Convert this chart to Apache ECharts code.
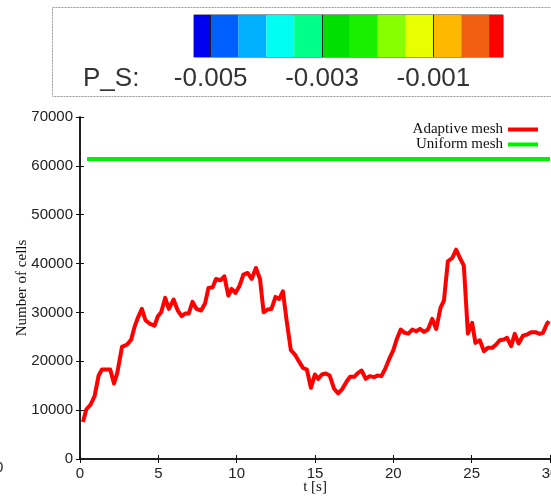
<!DOCTYPE html>
<html>
<head>
<meta charset="utf-8">
<script src="https://cdn.jsdelivr.net/npm/echarts@6/dist/echarts.min.js"></script>
<style>
  html, body { margin: 0; padding: 0; background: #fff; }
  #chart { width: 551px; height: 500px; }
</style>
</head>
<body>
<div id="chart"></div>
<script>
// Adaptive mesh: number of cells over simulation time
const timeS = [0.19,0.40,0.68,0.93,1.19,1.40,1.68,1.93,2.17,2.38,
  2.68,3.01,3.27,3.48,3.69,3.95,4.18,4.44,4.76,4.97,
  5.18,5.44,5.67,5.97,6.24,6.50,6.71,6.94,7.18,7.44,
  7.73,7.98,8.20,8.47,8.68,8.96,9.21,9.47,9.68,9.92,
  10.17,10.43,10.70,10.96,11.23,11.49,11.72,11.97,12.22,12.48,
  12.72,12.95,13.18,13.46,13.72,13.97,14.23,14.48,14.74,14.99,
  15.20,15.44,15.69,15.94,16.22,16.48,16.75,17.03,17.24,17.50,
  17.75,17.98,18.24,18.49,18.77,18.98,19.24,19.51,19.77,20.00,
  20.21,20.47,20.72,20.96,21.21,21.46,21.70,21.95,22.21,22.48,
  22.74,23.01,23.23,23.48,23.76,24.01,24.25,24.50,24.76,25.03,
  25.24,25.52,25.78,26.03,26.31,26.56,26.79,27.05,27.26,27.52,
  27.75,28.00,28.28,28.54,28.79,29.07,29.34,29.55,29.81,29.94];
const adaptiveCells = [7550,10140,11160,12870,17090,18320,18320,18320,15460,17630,
  22950,23430,24450,27040,28880,30720,28400,27720,27310,29220,
  30040,32970,30720,32630,30380,29220,29770,29770,32160,30720,
  30380,31810,35010,35150,36850,36580,37400,33450,34810,33990,
  35350,37740,38080,36850,39100,36850,30040,30580,30720,33180,
  32760,34330,28540,22270,21380,20020,18660,18320,14570,17300,
  16410,17300,17500,17090,14370,13410,14370,15930,16820,16820,
  17640,18110,16410,16960,16750,17090,16960,18660,20700,22270,
  24450,26490,25810,25680,26490,26150,26630,26010,26490,28680,
  26630,30920,32420,40460,41140,42840,41140,39570,25680,27860,
  23770,24310,22070,22750,22750,23430,24310,24450,24790,23090,
  25610,23630,25260,25470,25950,25950,25610,25810,27720,28200];

// Uniform mesh: constant cell count
const uniformTime = [0.45, 30];
const uniformCells = [61400, 61400];

// Pressure colour scale (P_S): cell bounds and colours
const scaleBounds = [-0.0053,-0.005,-0.0045,-0.004,-0.0035,-0.003,-0.0025,-0.002,-0.0015,-0.001,-0.0005,0,0.00025];
const scaleColors = ['#0000f0','#0060ff','#00b0ff','#00fff0','#00ff88','#00e000',
  '#18f000','#88ff00','#e8ff00','#ffb800','#f06010','#ff0000'];
const scaleTicks = [-0.005, -0.003, -0.001];

const xTicks = { min: 0, max: 30, interval: 5 };
const yTicks = { min: 0, max: 70000, interval: 10000 };

const scaleCells = scaleColors.map((c, i) => [scaleBounds[i], scaleBounds[i + 1]]);

const tickFont = { fontFamily: 'Liberation Sans', fontSize: 15, color: '#222', formatter: v => String(v) };
const serif = 'Liberation Serif';

const chart = echarts.init(document.getElementById('chart'), null, { renderer: 'canvas' });

const option = {
  backgroundColor: '#fff',
  animation: false,
  graphic: [
    {
      type: 'rect', z: 0,
      shape: { x: 52.5, y: 7.5, width: 520, height: 89 },
      style: { fill: 'none', stroke: '#999', lineWidth: 1, lineDash: [2, 1] }
    },
    {
      type: 'text', z: 10, left: 83, top: 66,
      style: { text: 'P_S:', font: '26px "Liberation Sans"', fill: '#333' }
    },
    {
      type: 'text', z: 10, left: -5, top: 460,
      style: { text: '0', font: '15px "Liberation Sans"', fill: '#222' }
    }
  ],
  legend: {
    orient: 'vertical',
    right: 13, top: 122,
    align: 'right',
    icon: 'rect',
    itemWidth: 30, itemHeight: 4, itemGap: 0,
    padding: 0,
    textStyle: { fontFamily: serif, fontSize: 15, color: '#111' },
    data: ['Adaptive mesh', 'Uniform mesh']
  },
  grid: [
    { left: 80, right: 1, top: 117, bottom: 41, containLabel: false, outerBoundsMode: 'none' },
    { left: 194, right: 48, top: 15, height: 42, containLabel: false, outerBoundsMode: 'none',
      show: true, borderColor: '#333', borderWidth: 1, backgroundColor: 'transparent' }
  ],
  xAxis: [
    {
      type: 'value', gridIndex: 0, position: 'bottom',
      min: xTicks.min, max: xTicks.max, interval: xTicks.interval,
      name: 't [s]', nameLocation: 'middle', nameGap: 21, nameMoveOverlap: false,
      nameTextStyle: { fontFamily: serif, fontSize: 15, color: '#111' },
      axisLine: { lineStyle: { color: '#111', width: 1.5 } },
      axisTick: { inside: true, length: 4, lineStyle: { color: '#111' } },
      axisLabel: Object.assign({ margin: 7 }, tickFont),
      splitLine: { show: false }
    },
    {
      type: 'value', gridIndex: 0, position: 'top',
      min: xTicks.min, max: xTicks.max, interval: xTicks.interval,
      axisLine: { lineStyle: { color: '#111', width: 1.5 } },
      axisTick: { inside: true, length: 4, lineStyle: { color: '#111' } },
      axisLabel: { show: false },
      splitLine: { show: false }
    },
    {
      type: 'value', gridIndex: 1, position: 'bottom', z: 5,
      min: scaleBounds[0], max: scaleBounds[scaleBounds.length - 1],
      axisLine: { show: false },
      axisTick: { customValues: scaleTicks, inside: true, length: 42, lineStyle: { color: '#222', width: 1 } },
      axisLabel: {
        customValues: scaleTicks, margin: 9,
        fontFamily: 'Liberation Sans', fontSize: 26, color: '#333',
        formatter: v => v.toFixed(3)
      },
      splitLine: { show: false }
    }
  ],
  yAxis: [
    {
      type: 'value', gridIndex: 0, position: 'left',
      min: yTicks.min, max: yTicks.max, interval: yTicks.interval,
      name: 'Number of cells', nameLocation: 'middle', nameGap: 50, nameMoveOverlap: false,
      nameTextStyle: { fontFamily: serif, fontSize: 15, color: '#111' },
      axisLine: { show: true, lineStyle: { color: '#111', width: 1.5 } },
      axisTick: { show: true, inside: true, length: 4, lineStyle: { color: '#111' } },
      axisLabel: Object.assign({ margin: 7 }, tickFont),
      splitLine: { show: false }
    },
    {
      type: 'value', gridIndex: 0, position: 'right',
      min: yTicks.min, max: yTicks.max, interval: yTicks.interval,
      axisLine: { show: true, lineStyle: { color: '#111', width: 1.5 } },
      axisTick: { show: true, inside: true, length: 4, lineStyle: { color: '#111' } },
      axisLabel: { show: false },
      splitLine: { show: false }
    },
    {
      type: 'value', gridIndex: 1, min: 0, max: 1, show: false
    }
  ],
  series: [
    {
      name: 'Adaptive mesh', type: 'line', xAxisIndex: 0, yAxisIndex: 0,
      data: timeS.map((t, i) => [t, adaptiveCells[i]]),
      showSymbol: false, symbol: 'none',
      color: '#ff0000',
      lineStyle: { color: '#ff0000', width: 4, join: 'round' }
    },
    {
      name: 'Uniform mesh', type: 'line', xAxisIndex: 0, yAxisIndex: 0,
      data: uniformTime.map((t, i) => [t, uniformCells[i]]),
      showSymbol: false, symbol: 'none',
      color: '#00f000',
      lineStyle: { color: '#00f000', width: 4 }
    },
    {
      type: 'custom', xAxisIndex: 2, yAxisIndex: 2, z: 1,
      data: scaleCells,
      renderItem: function (params, api) {
        const p0 = api.coord([api.value(0), 0]);
        const p1 = api.coord([api.value(1), 1]);
        return {
          type: 'rect',
          shape: { x: p0[0], y: p1[1], width: p1[0] - p0[0], height: p0[1] - p1[1] },
          style: { fill: scaleColors[params.dataIndex] }
        };
      }
    }
  ]
};

chart.setOption(option);
</script>
</body>
</html>
